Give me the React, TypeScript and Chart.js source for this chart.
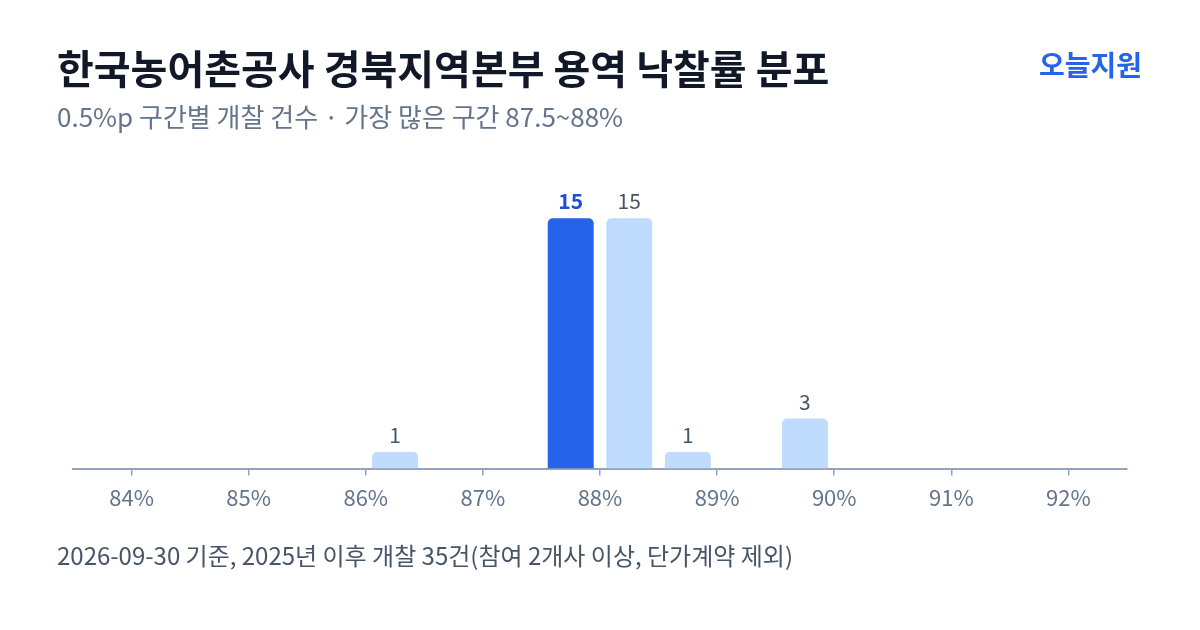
import React, { useEffect, useRef } from "react";
import { Chart, registerables } from "chart.js";

Chart.register(...registerables);

const TITLE = "한국농어촌공사 경북지역본부 용역 낙찰률 분포";
const SUBTITLE = "0.5%p 구간별 개찰 건수 · 가장 많은 구간 87.5~88%";
const BRAND = "오늘지원";
const FOOTER = "2026-09-30 기준, 2025년 이후 개찰 35건(참여 2개사 이상, 단가계약 제외)";

const binStarts = [83.5, 84, 84.5, 85, 85.5, 86, 86.5, 87, 87.5, 88, 88.5, 89, 89.5, 90, 90.5, 91, 91.5, 92];
const counts = [0, 0, 0, 0, 0, 1, 0, 0, 15, 15, 1, 0, 3, 0, 0, 0, 0, 0];
const highlightBin = 87.5;
const tickValues = [84, 85, 86, 87, 88, 89, 90, 91, 92];
const axisMin = 83.5;
const axisMax = 92.5;

const FONT = '"Noto Sans CJK KR", "Noto Sans", sans-serif';
const DARK = "#2563EB";
const LIGHT = "#BFDBFE";
const AXIS = "#94A3B8";

export default function App() {
  const ref = useRef<HTMLCanvasElement | null>(null);

  useEffect(() => {
    if (!ref.current) return;
    const labelsPlugin = {
      id: "valueLabels",
      afterDatasetsDraw(chart: any) {
        const ctx = chart.ctx;
        const meta = chart.getDatasetMeta(0);
        ctx.save();
        ctx.textAlign = "center";
        ctx.textBaseline = "alphabetic";
        meta.data.forEach((bar: any, i: number) => {
          const v = counts[i];
          if (!v) return;
          const hi = binStarts[i] === highlightBin;
          ctx.font = `${hi ? "bold " : ""}21px ${FONT}`;
          ctx.fillStyle = hi ? "#1D4ED8" : "#475569";
          ctx.fillText(String(v), bar.x, bar.y - 9);
        });
        ctx.restore();
      },
    };
    const chart = new Chart(ref.current, {
      type: "bar",
      data: {
        labels: binStarts.map((b) => String(b)),
        datasets: [
          {
            data: counts,
            backgroundColor: binStarts.map((b) => (b === highlightBin ? DARK : LIGHT)),
            borderRadius: 5,
            borderSkipped: "bottom",
            categoryPercentage: 1,
            barPercentage: 0.785,
            xAxisID: "x",
          },
        ],
      },
      options: {
        animation: false,
        responsive: false,
        maintainAspectRatio: false,
        events: [],
        layout: { padding: { left: 73, right: 73, top: 185, bottom: 110 } },
        plugins: { legend: { display: false }, tooltip: { enabled: false } },
        scales: {
          x: { type: "category", display: false, offset: true },
          x2: {
            type: "linear",
            position: "bottom",
            min: axisMin,
            max: axisMax,
            offset: false,
            afterBuildTicks: (axis: any) => {
              axis.ticks = tickValues.map((v) => ({ value: v }));
            },
            ticks: {
              callback: (v: any) => `${v}%`,
              color: "#64748B",
              font: { family: FONT, size: 22 },
              padding: 9,
              maxRotation: 0,
              autoSkip: false,
            },
            grid: {
              offset: false,
              drawOnChartArea: false,
              drawTicks: true,
              tickLength: 7,
              color: AXIS,
              lineWidth: 1.5,
            },
            border: { color: AXIS, width: 2 },
          },
          y: { display: false, min: 0, max: 17 },
        },
      },
      plugins: [labelsPlugin],
    });
    return () => chart.destroy();
  }, []);

  return (
    <div style={{ position: "relative", width: 1200, height: 630, background: "#fff", fontFamily: FONT, margin: "-8px" }}>
      <canvas ref={ref} width={1200} height={630} style={{ position: "absolute", left: 0, top: 0 }} />
      <div style={{ position: "absolute", left: 57, top: 40, fontSize: 40, fontWeight: 700, color: "#111827", lineHeight: "54px", whiteSpace: "nowrap" }}>{TITLE}</div>
      <div style={{ position: "absolute", right: 58, top: 44, fontSize: 28, fontWeight: 700, color: DARK, lineHeight: "40px", whiteSpace: "nowrap" }}>{BRAND}</div>
      <div style={{ position: "absolute", left: 57, top: 100, fontSize: 26, color: "#64748B", lineHeight: "32px", whiteSpace: "nowrap" }}>{SUBTITLE}</div>
      <div style={{ position: "absolute", left: 57, top: 540, fontSize: 24, color: "#475569", lineHeight: "30px", whiteSpace: "nowrap" }}>{FOOTER}</div>
    </div>
  );
}
